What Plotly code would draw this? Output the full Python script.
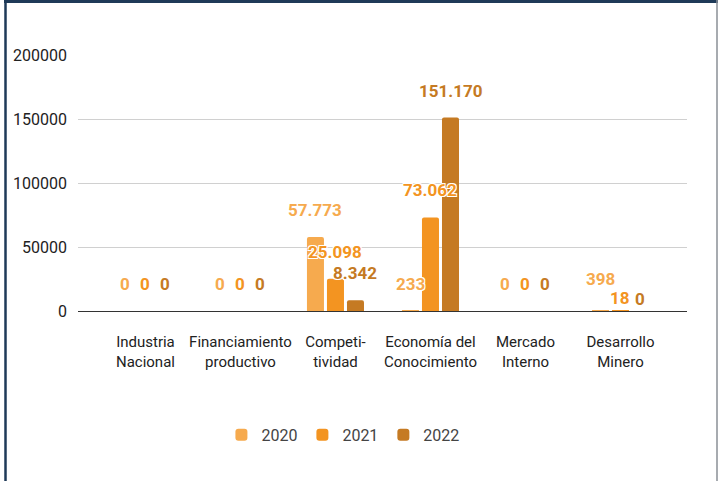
import plotly.graph_objects as go

categories = ["Industria<br>Nacional", "Financiamiento<br>productivo", "Competi-<br>tividad",
              "Economía del<br>Conocimiento", "Mercado<br>Interno", "Desarrollo<br>Minero"]
series_names = ["2020", "2021", "2022"]
values_2020 = [0, 0, 57773, 233, 0, 398]
values_2021 = [0, 0, 25098, 73062, 0, 18]
values_2022 = [0, 0, 8342, 151170, 0, 0]
label_2020 = ["0", "0", "57.773", "233", "0", "398"]
label_2021 = ["0", "0", "25.098", "73.062", "0", "18"]
label_2022 = ["0", "0", "8.342", "151.170", "0", "0"]
y_ticks = [0, 50000, 100000, 150000, 200000]

colors = ["#F6AA4E", "#F39421", "#C57A23"]
all_values = [values_2020, values_2021, values_2022]
all_labels = [label_2020, label_2021, label_2022]
# label vertical offsets (px) – mimic the original's collision layout
label_shift = [[27, 27, 27, 27, 27, 31],
               [27, 27, 27, 27, 27, 13],
               [27, 27, 27, 27, 27, 12]]

fig = go.Figure()
for name, vals, col in zip(series_names, all_values, colors):
    fig.add_trace(go.Bar(name=name, x=categories, y=vals, marker_color=col,
                         marker_line_width=0, hoverinfo="skip"))

shadow = "-1px -1px 0 #fff, 1px -1px 0 #fff, -1px 1px 0 #fff, 1px 1px 0 #fff"
annotations = []
for i, (vals, labs, col) in enumerate(zip(all_values, all_labels, colors)):
    for j, (v, lab) in enumerate(zip(vals, labs)):
        annotations.append(dict(
            x=categories[j], y=v, xref="x", yref="y", text=lab, showarrow=False,
            xshift=(i - 1) * 20, yshift=label_shift[i][j], yanchor="middle",
            font=dict(family="Roboto", size=17, color=col, weight="bold", shadow=shadow)))

fig.update_layout(
    width=718, height=481,
    margin=dict(l=78, r=31, t=55, b=170),
    paper_bgcolor="white", plot_bgcolor="white",
    barmode="group", bargap=0.368, bargroupgap=0.15, barcornerradius=2,
    font=dict(family="Roboto", color="#222222"),
    showlegend=True,
    legend=dict(orientation="h", x=0.435, xanchor="center", y=-0.484, yanchor="middle",
                font=dict(size=16, color="#444444"), itemwidth=30,
                traceorder="normal"),
    annotations=annotations,
    xaxis=dict(range=[-0.71, 5.70], showgrid=False, showline=False, ticks="",
               tickfont=dict(size=15, color="#222222"), ticklabelstandoff=20,
               fixedrange=True),
    yaxis=dict(range=[0, 200000], tickvals=y_ticks, tickformat="d",
               showgrid=True, gridcolor="#D0D0D0", gridwidth=1,
               zeroline=True, zerolinecolor="#333333", zerolinewidth=1,
               showline=False, ticks="", tickfont=dict(size=16, color="#222222"),
               ticklabelstandoff=10, fixedrange=True),
    shapes=[
        dict(type="line", xref="paper", yref="paper",
             x0=(5.5 - 78) / 609, x1=(5.5 - 78) / 609, y0=-170 / 256, y1=(311 - 0) / 256,
             line=dict(color="#1F3A58", width=2.5)),
        dict(type="line", xref="paper", yref="paper",
             x0=(4 - 78) / 609, x1=(718 - 78) / 609, y0=(311 - 1.5) / 256, y1=(311 - 1.5) / 256,
             line=dict(color="#1F3A58", width=3)),
        dict(type="line", xref="paper", yref="paper",
             x0=(717 - 78) / 609, x1=(717 - 78) / 609, y0=-170 / 256, y1=(311 - 0) / 256,
             line=dict(color="#8A8F96", width=1.5)),
    ],
)

fig.write_html("out.html", config={"displayModeBar": False},
               post_script="document.body.style.margin='0';")
